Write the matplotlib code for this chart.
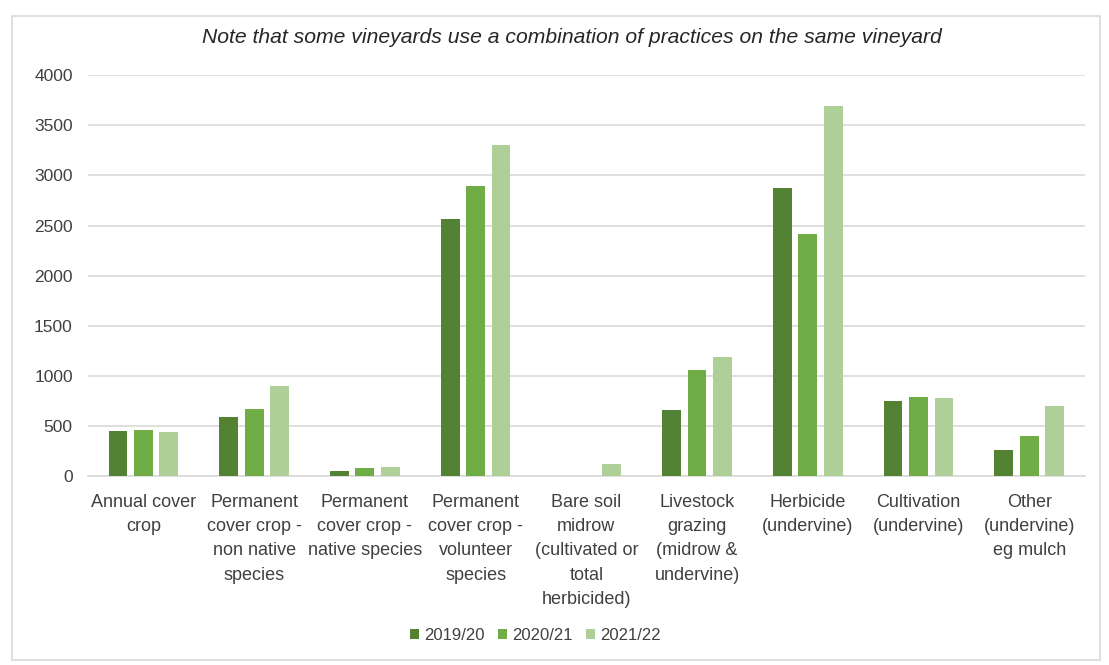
import matplotlib
matplotlib.use('Agg')
import matplotlib.pyplot as plt
from matplotlib.patches import Rectangle
import numpy as np

plt.rcParams['font.family'] = ['Liberation Sans', 'DejaVu Sans']

categories = [
    'Annual cover\ncrop',
    'Permanent\ncover crop -\nnon native\nspecies',
    'Permanent\ncover crop -\nnative species',
    'Permanent\ncover crop -\nvolunteer\nspecies',
    'Bare soil\nmidrow\n(cultivated or\ntotal\nherbicided)',
    'Livestock\ngrazing\n(midrow &\nundervine)',
    'Herbicide\n(undervine)',
    'Cultivation\n(undervine)',
    'Other\n(undervine)\neg mulch',
]
series_names = ['2019/20', '2020/21', '2021/22']
values_2019 = [450, 585, 50, 2570, 0, 655, 2875, 750, 260]
values_2020 = [460, 670, 83, 2890, 0, 1060, 2415, 793, 400]
values_2021 = [440, 900, 93, 3300, 120, 1185, 3690, 775, 700]
colors = ['#548235', '#70AD47', '#AECF98']

fig = plt.figure(figsize=(11.09, 6.65), dpi=100)
ax = fig.add_axes([0.0794, 0.284, 0.8986, 0.603])

x = np.arange(len(categories))
bw = 0.17
step = 0.23
for i, (vals, c, name) in enumerate(zip([values_2019, values_2020, values_2021], colors, series_names)):
    ax.bar(x + (i - 1) * step, vals, width=bw, color=c, label=name, zorder=3)

ax.set_xlim(-0.5, len(categories) - 0.5)
ax.set_ylim(0, 4000)
ax.set_yticks(range(0, 4001, 500))
ax.yaxis.grid(True, color='#d9d9d9', linewidth=1.2, zorder=0)
ax.set_axisbelow(True)
for s in ['top', 'right', 'left']:
    ax.spines[s].set_visible(False)
ax.spines['bottom'].set_color('#d9d9d9')
ax.spines['bottom'].set_linewidth(1.2)
ax.tick_params(axis='both', length=0, labelsize=12.5, colors='#404040')
ax.tick_params(axis='y', pad=11)
ax.tick_params(axis='x', pad=13, labelsize=13)
ax.set_xticks(x)
ax.set_xticklabels(categories, linespacing=1.55)

fig.text(0.516, 0.944, 'Note that some vineyards use a combination of practices on the same vineyard',
         ha='center', va='center', fontsize=15.2, style='italic', color='#262626')

fig.legend(loc='center', bbox_to_anchor=(0.483, 0.044), ncol=3, frameon=False,
           fontsize=12, handlelength=0.55, handleheight=0.55, handletextpad=0.3,
           columnspacing=0.8, labelcolor='#404040')

fig.patches.append(Rectangle((0.011, 0.008), 0.981, 0.968, transform=fig.transFigure,
                             fill=False, edgecolor='#d9d9d9', linewidth=1.2))

fig.savefig('out.png', dpi=100)
